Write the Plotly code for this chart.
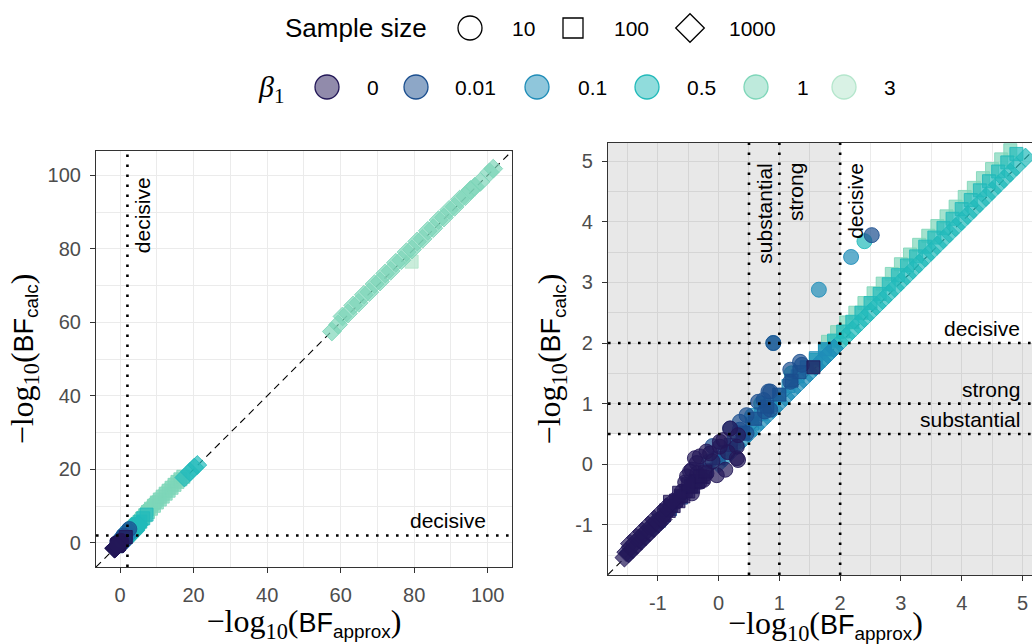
import plotly.graph_objects as go

# ---------------------------------------------------------------------------
# Levels, colours and symbols
# ---------------------------------------------------------------------------
beta_levels = ["0", "0.01", "0.1", "0.5", "1", "3"]
beta_colors = ["#231858", "#1B4F8F", "#1F8DB8", "#22BABA", "#7ED6B9", "#B4E6CC"]
size_levels = ["10", "100", "1000"]
size_symbols = ["circle", "square", "diamond"]

# ---------------------------------------------------------------------------
# (-log10 BF_approx, -log10 BF_calc) pairs for each beta_1 / sample size
# ---------------------------------------------------------------------------
b0_n10 = [(-0.70, -0.62), (-0.60, -0.45), (-0.55, -0.30), (-0.47, -0.12), (-0.44, -0.48),
          (-0.44, -0.09), (-0.39, 0.10), (-0.36, 0.02), (-0.31, 0.13), (-0.31, -0.29),
          (-0.25, -0.26), (-0.20, -0.15), (-0.20, 0.21), (-0.14, 0.18), (-0.03, -0.18),
          (0.02, 0.29), (0.02, 0.37), (0.08, 0.40), (0.11, -0.09), (0.19, 0.59),
          (0.30, 0.10), (0.30, 0.29), (0.32, 0.07), (0.32, 0.48), (-0.52, -0.20),
          (-0.10, 0.05), (0.15, 0.20), (-0.35, -0.15)]
b0_n100 = [(-0.90, -0.84), (-0.86, -0.76), (-0.82, -0.77), (-0.78, -0.68), (-0.74, -0.69),
           (-0.70, -0.60), (-0.66, -0.61), (-0.62, -0.52), (-0.58, -0.53), (-0.54, -0.44),
           (-0.50, -0.45), (-0.46, -0.36), (-0.42, -0.37), (-0.38, -0.28), (-0.34, -0.29),
           (-0.30, -0.20), (-0.26, -0.21), (-0.22, -0.12), (-0.80, -0.62), (-0.65, -0.47),
           (-0.50, -0.33), (1.56, 1.60)]
b0_n1000 = [(-1.55, -1.54), (-1.52, -1.45), (-1.48, -1.47), (-1.45, -1.37), (-1.41, -1.40),
            (-1.38, -1.30), (-1.34, -1.33), (-1.31, -1.23), (-1.27, -1.26), (-1.24, -1.16),
            (-1.20, -1.19), (-1.17, -1.09), (-1.13, -1.12), (-1.10, -1.02), (-1.06, -1.05),
            (-1.03, -0.95), (-0.99, -0.98), (-0.95, -0.90), (-0.92, -0.91), (-0.88, -0.82),
            (-1.46, -1.31), (-1.36, -1.21), (-1.26, -1.11), (-1.16, -1.01), (-1.06, -0.91),
            (-0.96, -0.81), (-0.86, -0.71), (-0.76, -0.62)]

b001_n10 = [(-0.10, 0.30), (0.19, 0.59), (0.35, 0.70), (0.35, 0.57), (0.46, 0.81),
            (0.46, 0.51), (0.65, 1.03), (0.74, 1.06), (0.76, 0.87), (0.82, 1.20),
            (0.85, 0.90), (0.85, 1.20), (1.18, 1.36), (1.18, 1.56), (1.34, 1.69),
            (1.37, 1.64), (0.90, 2.00), (2.52, 3.78)]
b001_n100 = [(-0.98, -0.93), (-0.80, -0.74), (-0.62, -0.55), (-0.45, -0.37), (-0.20, -0.10),
             (0.00, 0.10), (0.20, 0.32), (0.40, 0.52), (0.60, 0.75), (0.80, 0.95),
             (1.00, 1.15), (1.20, 1.38), (1.33, 1.52)]
b001_n1000 = [(-1.48, -1.46), (-1.28, -1.25), (-1.08, -1.05), (-0.95, -0.94)]

b01_n10 = [(-0.15, 0.05), (0.55, 0.80), (0.90, 2.00), (1.65, 2.88), (2.18, 3.42)]
b01_n100 = [(0.10, 0.20), (0.25, 0.36), (0.40, 0.52), (0.55, 0.67), (0.70, 0.83),
            (0.85, 0.98), (1.00, 1.14), (1.15, 1.29), (1.30, 1.45), (1.45, 1.60),
            (1.60, 1.75), (1.75, 1.90)]
b01_n1000 = [(0.00, 0.01), (0.10, 0.11), (0.20, 0.21), (0.30, 0.31), (0.40, 0.41),
             (0.50, 0.51), (0.60, 0.61), (0.70, 0.71), (0.80, 0.81), (0.90, 0.91),
             (1.00, 1.01), (1.10, 1.11), (1.20, 1.21), (1.30, 1.31), (1.40, 1.41),
             (1.50, 1.51), (1.60, 1.61), (1.70, 1.71), (1.80, 1.81), (1.90, 1.91)]

b05_n10 = [(0.70, 1.00), (1.20, 1.50), (2.40, 3.68)]
b05_n100 = [(1.60, 1.72), (1.75, 1.88), (1.90, 2.04), (2.05, 2.19), (2.20, 2.35),
            (2.35, 2.50), (2.50, 2.66), (2.65, 2.81), (2.80, 2.97), (2.95, 3.12),
            (3.10, 3.28), (3.25, 3.43), (3.40, 3.59), (3.55, 3.74), (3.70, 3.90),
            (3.85, 4.05), (4.00, 4.21), (4.15, 4.36), (4.30, 4.52), (4.45, 4.67),
            (4.60, 4.83), (4.75, 4.98), (4.90, 5.12), (5.50, 5.80), (6.30, 6.70),
            (7.20, 7.70)]
b05_n1000 = [(1.60, 1.61), (1.70, 1.71), (1.80, 1.81), (1.90, 1.91), (2.00, 2.01),
             (2.10, 2.11), (2.20, 2.21), (2.30, 2.31), (2.40, 2.41), (2.50, 2.51),
             (2.60, 2.61), (2.70, 2.71), (2.80, 2.81), (2.90, 2.91), (3.00, 3.01),
             (3.10, 3.11), (3.20, 3.21), (3.30, 3.31), (3.40, 3.41), (3.50, 3.51),
             (3.60, 3.61), (3.70, 3.71), (3.80, 3.81), (3.90, 3.91), (4.00, 4.01),
             (4.10, 4.11), (4.20, 4.21), (4.30, 4.31), (4.40, 4.41), (4.50, 4.51),
             (4.60, 4.61), (4.70, 4.71), (4.80, 4.81), (4.90, 4.91), (5.05, 5.06),
             (17.5, 17.8), (19.0, 19.3), (20.2, 20.5), (21.0, 21.2)]

b1_n10 = [(5.8, 6.9), (7.5, 8.8), (9.5, 10.8)]
b1_n100 = [(1.80, 2.02), (1.95, 2.18), (2.10, 2.34), (2.25, 2.50), (2.40, 2.66),
           (2.55, 2.82), (2.70, 2.98), (2.85, 3.14), (3.00, 3.30), (3.15, 3.46),
           (3.30, 3.62), (3.45, 3.77), (3.60, 3.93), (3.75, 4.09), (3.90, 4.25),
           (4.05, 4.41), (4.20, 4.56), (4.35, 4.72), (4.50, 4.87), (4.65, 5.03),
           (4.80, 5.18), (5.20, 5.60), (6.00, 6.60), (6.80, 7.50), (7.60, 8.40),
           (8.40, 9.30), (9.20, 10.1), (10.0, 11.0), (10.8, 11.8), (11.6, 12.6),
           (12.4, 13.4), (13.2, 14.2), (14.0, 15.0), (14.8, 15.8), (15.6, 16.6),
           (16.4, 17.3), (17.2, 18.0)]
b1_n1000 = [(57.6, 57.5), (59.3, 59.4), (60.5, 61.6), (62.0, 62.4), (63.4, 64.6),
            (64.9, 65.3), (66.3, 67.5), (67.8, 68.2), (69.2, 70.4), (70.7, 71.1),
            (72.1, 73.3), (73.6, 74.0), (75.0, 76.2), (76.5, 76.9), (77.9, 79.1),
            (79.4, 79.8), (80.8, 82.0), (82.3, 82.7), (83.7, 84.9), (85.2, 85.6),
            (86.6, 87.8), (88.1, 88.5), (89.5, 90.6), (91.0, 91.4), (92.4, 93.4),
            (93.9, 94.3), (95.3, 96.0), (96.5, 96.9), (98.0, 98.2), (100.5, 100.8),
            (101.5, 101.8)]

b3_n10 = [(6.0, 6.9), (7.0, 8.1), (8.0, 9.2), (9.0, 10.3), (10.0, 11.2), (11.0, 12.3),
          (12.0, 13.2), (13.0, 14.3), (14.0, 15.2), (15.0, 16.2), (16.0, 17.0)]
b3_n100 = [(79.3, 76.5)]

groups = {
    ("0", "10"): b0_n10, ("0", "100"): b0_n100, ("0", "1000"): b0_n1000,
    ("0.01", "10"): b001_n10, ("0.01", "100"): b001_n100, ("0.01", "1000"): b001_n1000,
    ("0.1", "10"): b01_n10, ("0.1", "100"): b01_n100, ("0.1", "1000"): b01_n1000,
    ("0.5", "10"): b05_n10, ("0.5", "100"): b05_n100, ("0.5", "1000"): b05_n1000,
    ("1", "10"): b1_n10, ("1", "100"): b1_n100, ("1", "1000"): b1_n1000,
    ("3", "10"): b3_n10, ("3", "100"): b3_n100,
}

# evidence thresholds on the -log10 scale
thresholds = [0.5, 1, 2]
threshold_names = ["substantial", "strong", "decisive"]

# tick labels of the zoomed panel (plain hyphen for negatives)
right_ticks = [-1, 0, 1, 2, 3, 4, 5]
right_ticktext = ["-1", "0", "1", "2", "3", "4", "5"]

# ---------------------------------------------------------------------------
W, H = 1032, 644
SANS = "Liberation Sans, Arial, sans-serif"
SERIF = "Liberation Serif"
marker_px = {"circle": 15, "square": 13, "diamond": 14.5}


def rgba(hex_color, a):
    h = hex_color.lstrip("#")
    r, g, b = int(h[0:2], 16), int(h[2:4], 16), int(h[4:6], 16)
    return f"rgba({r},{g},{b},{a})"


fig = go.Figure()

# scatter points on both panels (the right panel is a zoom of the same data)
for axes in (("x", "y"), ("x2", "y2")):
    for bi in reversed(range(len(beta_levels))):
        beta = beta_levels[bi]
        col = beta_colors[bi]
        for si, n in enumerate(size_levels):
            pts = groups.get((beta, n))
            if not pts:
                continue
            sym = size_symbols[si]
            fig.add_trace(go.Scatter(
                x=[p[0] for p in pts], y=[p[1] for p in pts],
                mode="markers", xaxis=axes[0], yaxis=axes[1],
                marker=dict(symbol=sym, size=marker_px[sym], color=rgba(col, 0.7),
                            line=dict(color=rgba(col, 0.85), width=1)),
                showlegend=False, hoverinfo="skip", cliponaxis=True,
            ))

# axis ranges
L_RANGE = [-6.55, 106.6]
R_XRANGE = [-1.82, 5.157]
R_YRANGE = [-1.827, 5.30]

shapes = []
# shaded cells where the two evidence categories disagree
edges = [-100] + thresholds + [100]
for i in range(len(edges) - 1):
    for j in range(len(edges) - 1):
        if i != j:
            shapes.append(dict(type="rect", xref="x2", yref="y2",
                               x0=edges[i], x1=edges[i + 1], y0=edges[j], y1=edges[j + 1],
                               fillcolor="rgba(0,0,0,0.09)", line=dict(width=0),
                               layer="between"))
# identity lines
shapes.append(dict(type="line", xref="x", yref="y", x0=L_RANGE[0], y0=L_RANGE[0],
                   x1=L_RANGE[1], y1=L_RANGE[1], line=dict(color="black", width=1.1, dash="7px,5px"),
                   layer="between"))
shapes.append(dict(type="line", xref="x2", yref="y2", x0=R_XRANGE[0], y0=R_XRANGE[0],
                   x1=R_XRANGE[1], y1=R_XRANGE[1], line=dict(color="black", width=1.1, dash="7px,5px"),
                   layer="between"))
dot = dict(color="black", width=2.6, dash="2.6px,7.4px")
# decisive threshold on the left panel
shapes.append(dict(type="line", xref="x", yref="y", x0=2, x1=2, y0=L_RANGE[0], y1=L_RANGE[1],
                   line=dot, layer="above"))
shapes.append(dict(type="line", xref="x", yref="y", y0=2, y1=2, x0=L_RANGE[0], x1=L_RANGE[1],
                   line=dot, layer="above"))
# all thresholds on the right panel
for t in thresholds:
    shapes.append(dict(type="line", xref="x2", yref="y2", x0=t, x1=t, y0=R_YRANGE[0], y1=R_YRANGE[1],
                       line=dot, layer="above"))
    shapes.append(dict(type="line", xref="x2", yref="y2", y0=t, y1=t, x0=R_XRANGE[0], x1=R_XRANGE[1],
                       line=dot, layer="above"))

ann_font = dict(family=SANS, size=21, color="black")
annotations = []
# left panel labels
annotations.append(dict(xref="x", yref="y", x=2, y=100, text="decisive", textangle=-90,
                        xanchor="left", yanchor="top", showarrow=False, font=ann_font, xshift=1))
annotations.append(dict(xref="x", yref="y", x=100, y=2, text="decisive",
                        xanchor="right", yanchor="bottom", showarrow=False, font=ann_font, yshift=2))
# right panel labels
for t, name in zip(thresholds, threshold_names):
    annotations.append(dict(xref="x2", yref="y2", x=t, y=5, text=name, textangle=-90,
                            xanchor="left", yanchor="top", showarrow=False, font=ann_font, xshift=2))
    annotations.append(dict(xref="x2", yref="y2", x=5, y=t, text=name,
                            xanchor="right", yanchor="bottom", showarrow=False, font=ann_font, yshift=1))


def title_text(sub):
    return (f'<span style="font-family:{SERIF};font-size:32px">−log<sub>10</sub>(</span>'
            f'BF<sub>{sub}</sub><span style="font-family:{SERIF};font-size:32px">)</span>')


title_font = dict(family=SANS, size=27, color="black")

# x title of the zoomed panel, centred under the full (edge-cropped) panel width
annotations.append(dict(xref="paper", yref="paper", x=825 / W, y=1 - 625 / H,
                        text=title_text("approx"), xanchor="center", yanchor="middle",
                        showarrow=False, font=title_font))

# ---------------------------------------------------------------------------
# legend block drawn on its own pixel-scaled axes
# ---------------------------------------------------------------------------
LEG_H = 130
size_row_y = 28
beta_row_y = 87
size_key_x = [470, 573, 690]
size_lab_x = [510, 612, 727]
beta_key_x = [327, 416, 537, 647, 756, 844]
beta_lab_x = [365, 453, 576, 685, 795, 882]
legend_px = {"circle": 24, "square": 20, "diamond": 22}

for si, sym in enumerate(size_symbols):
    fig.add_trace(go.Scatter(
        x=[size_key_x[si]], y=[size_row_y], mode="markers", xaxis="x3", yaxis="y3",
        marker=dict(symbol=sym + "-open", size=legend_px[sym], color="black", line=dict(width=1.3)),
        showlegend=False, hoverinfo="skip"))
    annotations.append(dict(xref="x3", yref="y3", x=size_lab_x[si], y=size_row_y, text=size_levels[si],
                            xanchor="left", yanchor="middle", showarrow=False,
                            font=dict(family=SANS, size=21, color="black")))
annotations.append(dict(xref="x3", yref="y3", x=283, y=size_row_y, text="Sample size",
                        xanchor="left", yanchor="middle", showarrow=False,
                        font=dict(family=SANS, size=26, color="black")))

fig.add_trace(go.Scatter(
    x=beta_key_x, y=[beta_row_y] * len(beta_key_x), mode="markers", xaxis="x3", yaxis="y3",
    marker=dict(symbol="circle", size=legend_px["circle"],
                color=[rgba(c, 0.5) for c in beta_colors],
                line=dict(color=beta_colors, width=1.3)),
    showlegend=False, hoverinfo="skip"))
for bi, lab in enumerate(beta_levels):
    annotations.append(dict(xref="x3", yref="y3", x=beta_lab_x[bi], y=beta_row_y, text=lab,
                            xanchor="left", yanchor="middle", showarrow=False,
                            font=dict(family=SANS, size=21, color="black")))
annotations.append(dict(xref="x3", yref="y3", x=256, y=beta_row_y + 2, text="<i>β</i><sub>1</sub>",
                        xanchor="left", yanchor="middle", showarrow=False,
                        font=dict(family=SERIF, size=30, color="black")))

# ---------------------------------------------------------------------------
grid = "#EBEBEB"
axis_common = dict(
    showline=True, linecolor="#333333", linewidth=1.1,
    ticks="outside", ticklen=5, tickcolor="#333333", tickwidth=1.1,
    tickfont=dict(family=SANS, size=20, color="#4D4D4D"),
    showgrid=True, gridcolor=grid, gridwidth=1.1, zeroline=False,
)

fig.update_layout(
    width=W, height=H, margin=dict(l=0, r=0, t=0, b=0),
    paper_bgcolor="white", plot_bgcolor="white", showlegend=False,
    shapes=shapes, annotations=annotations,
    xaxis=dict(**axis_common, anchor="y", domain=[96 / W, 512 / W], range=L_RANGE, mirror=True,
               tickmode="linear", tick0=0, dtick=20, ticklabelstandoff=5,
               minor=dict(dtick=10, tick0=0, showgrid=True, gridcolor=grid, gridwidth=0.6),
               title=dict(text=title_text("approx"), font=title_font, standoff=8)),
    yaxis=dict(**axis_common, anchor="x", domain=[1 - 567 / H, 1 - 151 / H], range=L_RANGE, mirror=True,
               tickmode="linear", tick0=0, dtick=20, ticklabelstandoff=5,
               minor=dict(dtick=10, tick0=0, showgrid=True, gridcolor=grid, gridwidth=0.6),
               title=dict(text=title_text("calc"), font=title_font, standoff=6)),
    xaxis2=dict(**axis_common, anchor="y2", domain=[608 / W, 1.0], range=R_XRANGE, mirror=True,
                tickmode="array", tickvals=right_ticks, ticktext=right_ticktext, ticklabelstandoff=5,
                minor=dict(dtick=0.5, tick0=0, showgrid=True, gridcolor=grid, gridwidth=0.6)),
    yaxis2=dict(**axis_common, anchor="x2", domain=[1 - 575 / H, 1 - 143 / H], range=R_YRANGE,
                tickmode="array", tickvals=right_ticks, ticktext=right_ticktext, ticklabelstandoff=5,
                minor=dict(dtick=0.5, tick0=0, showgrid=True, gridcolor=grid, gridwidth=0.6),
                title=dict(text=title_text("calc"), font=title_font, standoff=6)),
    xaxis3=dict(domain=[0, 1], range=[0, W], visible=False, fixedrange=True),
    yaxis3=dict(domain=[1 - LEG_H / H, 1], range=[LEG_H, 0], visible=False, fixedrange=True),
)

fig.write_html("out.html")
